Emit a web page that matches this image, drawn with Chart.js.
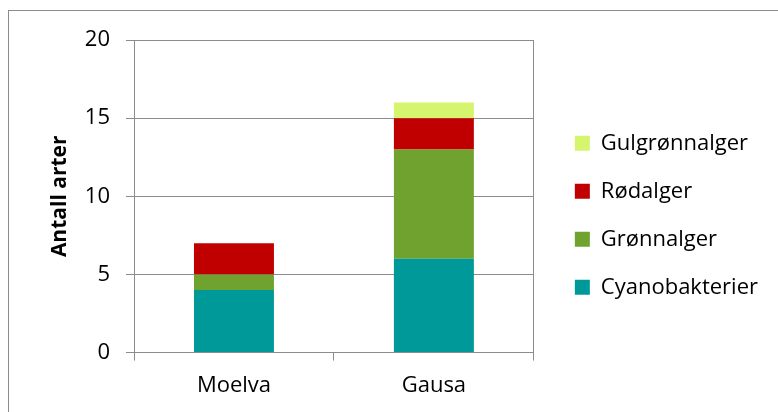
<!DOCTYPE html>
<html>
<head>
<meta charset="utf-8">
<script src="https://cdn.jsdelivr.net/npm/chart.js@4"></script>
<style>
  html, body { margin: 0; padding: 0; background: #fff; overflow: hidden; }
  #wrap { position: relative; width: 778px; height: 412px; }
  #frame { position: absolute; left: 8px; top: 10px; width: 800px; height: 420px; border: 1px solid #8c8c8c; box-sizing: border-box; }
  canvas { position: absolute; left: 0; top: 0; }
</style>
</head>
<body>
<div id="wrap">
  <div id="frame"></div>
  <canvas id="chart" width="778" height="412"></canvas>
</div>
<script>
const places = ["Moelva", "Gausa"];
const cyanobakterier = [4, 6];
const gronnalger = [1, 7];
const rodalger = [2, 2];
const gulgronnalger = [0, 1];
const yTicks = [0, 5, 10, 15, 20];

const font = "'Open Sans', 'Noto Sans', sans-serif";
const gridGrey = "#8c8c8c";

function drawChart() {
  const ctx = document.getElementById("chart").getContext("2d");
  new Chart(ctx, {
    type: "bar",
    data: {
      labels: places,
      datasets: [
        { label: "Cyanobakterier", data: cyanobakterier, backgroundColor: "#009999" },
        { label: "Grønnalger", data: gronnalger, backgroundColor: "#70a22f" },
        { label: "Rødalger", data: rodalger, backgroundColor: "#c00000" },
        { label: "Gulgrønnalger", data: gulgronnalger, backgroundColor: "#d6f56e" },
      ],
    },
    options: {
      responsive: false,
      animation: false,
      layout: { padding: { left: 43, top: 40, right: 10, bottom: 1 } },
      datasets: { bar: { categoryPercentage: 0.4, barPercentage: 1.0 } },
      scales: {
        x: {
          stacked: true,
          grid: { display: true, drawOnChartArea: false, drawTicks: true, tickLength: 8, offset: true, color: gridGrey },
          border: { color: gridGrey },
          ticks: { color: "#000", padding: 12, font: { family: font, size: 22 } },
        },
        y: {
          stacked: true,
          min: 0,
          max: 20,
          afterBuildTicks: (scale) => { scale.ticks = yTicks.map((v) => ({ value: v })); },
          // fixed width so the plot starts where the original does
          afterFit: (scale) => { scale.width = 91; },
          grid: { color: gridGrey, tickLength: 8 },
          border: { color: gridGrey },
          ticks: { color: "#000", padding: 16, font: { family: font, size: 22 } },
          title: { display: true, text: "Antall arter", color: "#000", padding: { bottom: 10 }, font: { family: font, size: 21, weight: "bold" } },
        },
        // empty right axis: draws the right edge of the plot frame and leaves a gap before the legend
        y2: {
          position: "right",
          min: 0,
          max: 20,
          afterFit: (scale) => { scale.width = 15; },
          grid: { drawOnChartArea: false, drawTicks: false },
          border: { color: gridGrey },
          ticks: { display: false },
        },
      },
      plugins: {
        legend: {
          position: "right",
          reverse: true,
          fullSize: false,
          maxWidth: 300,
          // blank title only pushes the entries down a bit
          title: { display: true, text: "", padding: { top: 13, bottom: 13 }, font: { family: font, size: 10 } },
          labels: { boxWidth: 15, boxHeight: 15, padding: 26, color: "#000", font: { family: font, size: 22 } },
        },
        tooltip: { enabled: false },
      },
    },
  });
}

document.fonts.load("22px 'Open Sans'").then(drawChart, drawChart);
</script>
</body>
</html>
